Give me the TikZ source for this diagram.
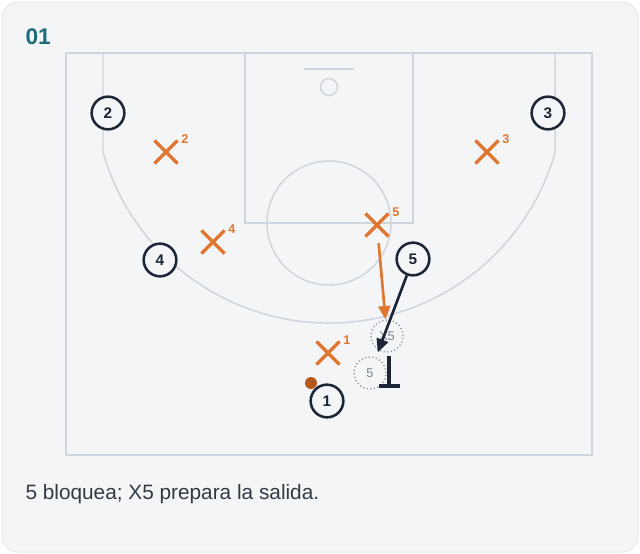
\documentclass[tikz,border=0pt]{standalone}
\usepackage{fontspec}
\setmainfont{Liberation Sans}
\usetikzlibrary{arrows.meta,shapes.misc}

\definecolor{cardbg}{RGB}{243,245,247}
\definecolor{cardln}{RGB}{230,233,236}
\definecolor{courtln}{RGB}{207,213,220}
\definecolor{navy}{RGB}{27,37,54}
\definecolor{defor}{RGB}{224,118,48}
\definecolor{ballc}{RGB}{181,86,27}
\definecolor{teal}{RGB}{29,108,124}
\definecolor{ghostln}{RGB}{150,160,172}
\definecolor{ghosttx}{RGB}{120,130,142}
\definecolor{captx}{RGB}{51,58,68}

\tikzset{every picture/.style={line width=0.75pt}}
\tikzset{
  court/.style={draw=courtln, line width=1.1pt},
  player/.style={circle, draw=navy, fill=cardbg, line width=1.9pt, minimum size=24.5pt, inner sep=0pt, text=navy, font=\bfseries\fontsize{11.5}{13}\selectfont},
  defender/.style={cross out, draw=defor, line width=2.4pt, minimum size=15pt, inner sep=0pt},
  deflabel/.style={text=defor, inner sep=0pt, anchor=center, label distance=6.6pt, font=\bfseries\fontsize{9.5}{11}\selectfont},
  ghost/.style={circle, draw=ghostln, line width=1.1pt, dash pattern=on 0.9pt off 1.8pt, minimum size=24pt, inner sep=0pt, text=ghosttx, font=\fontsize{9.5}{11}\selectfont},
  movedef/.style={draw=defor, line width=2pt, -{Triangle[length=10pt,width=9pt]}},
  moveoff/.style={draw=navy, line width=2pt, -{Triangle[length=10pt,width=9pt]}},
  screenbar/.style={draw=navy, line width=3pt},
}

\begin{document}
\begin{tikzpicture}[x=0.75pt,y=0.75pt,yscale=-1,xscale=1]
        \useasboundingbox (0,0) rectangle (640,554);

        %Shape: Card [id:card]
        \draw [fill=cardbg, draw=cardln, rounded corners=12pt] (2,2) rectangle (638,552);

        %Shape: Court [id:court]
        \draw [court] (66,53) rectangle (592,455);
        %Shape: Paint
        \draw [court] (245,53) rectangle (413,223);
        %Shape: Free throw circle
        \draw [court] (329,223) circle [radius=62];
        %Straight Lines: Backboard
        \draw [court] (304,69) -- (354,69);
        %Shape: Basket
        \draw [court] (329,87) circle [radius=8.5];
        %Shape: Three point line
        \draw [court] (103,53) -- (103,152) arc [start angle=164.2, end angle=15.8, radius=235] -- (555,53);

        %Shape: Ball
        \node [circle, fill=ballc, minimum size=9pt, inner sep=0pt] (ball) at (311,383) {};

        % Players
        \node [player] (p1) at (327,401) {1};
        \node [player] (p2) at (108,113) {2};
        \node [player] (p3) at (548,113) {3};
        \node [player] (p4) at (160,260) {4};
        \node [player] (p5) at (413,259) {5};

        % Defenders
        \node [defender, label={[deflabel]35:1}] (x1) at (328,353) {};
        \node [defender, label={[deflabel]35:2}] (x2) at (166,152) {};
        \node [defender, label={[deflabel]35:3}] (x3) at (487,152) {};
        \node [defender, label={[deflabel]35:4}] (x4) at (213,242) {};
        \node [defender, label={[deflabel]35:5}] (x5) at (377,225) {};

        % Ghost positions
        \node [ghost] (gx5) at (387,336) {X5};
        \node [ghost] (g5) at (370,373) {5};

        %Straight Lines: X5 moves
        \draw [movedef, shorten <=5pt] (x5) -- (gx5);
        %Straight Lines: 5 moves
        \draw [moveoff, shorten >=4pt] (p5) -- (g5);
        %Shape: Screen
        \draw [screenbar] (389,356) -- (389,386);
        \draw [screenbar] (379,386) -- (400,386);

        % Text Node
        \node [anchor=west, inner sep=0pt, text=teal, font=\bfseries\fontsize{17}{20}\selectfont] (title) at (25,37) {01};
        % Text Node
        \node [anchor=west, inner sep=0pt, text=captx, font=\fontsize{15.6}{18}\selectfont] (caption) at (25,494) {5 bloquea; X5 prepara la salida.};

\end{tikzpicture}
\end{document}
